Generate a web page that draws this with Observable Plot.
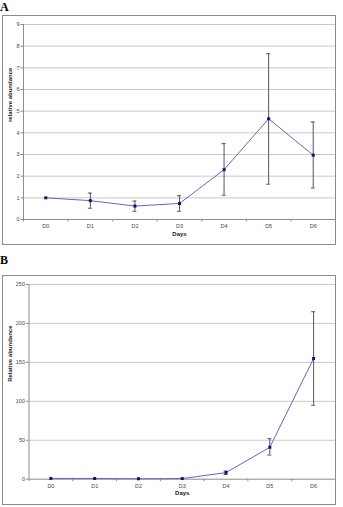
<!DOCTYPE html>
<html>
<head>
<meta charset="utf-8">
<script src="https://cdn.jsdelivr.net/npm/d3@7"></script>
<script src="https://cdn.jsdelivr.net/npm/@observablehq/plot@0.6"></script>
<style>
  html, body { margin: 0; padding: 0; background: #fff; width: 343px; height: 507px; overflow: hidden; }
  body { position: relative; font-family: "Liberation Sans", Arial, sans-serif; }
  .panel { position: absolute; left: 0; }
  .frame { position: absolute; border: 1.5px solid #8a8a8a; box-sizing: border-box; pointer-events: none; }
  .plab { position: absolute; left: 0; font-family: "Liberation Serif", "Times New Roman", serif; font-weight: bold; font-size: 12px; line-height: 12px; }
</style>
</head>
<body>
<div class="plab" id="labA" style="top:1px">A</div>
<div class="frame" style="left:2px; top:15px; width:334px; height:230px"></div>
<div class="panel" id="chartA" style="top:0px"></div>
<div class="plab" id="labB" style="top:254px">B</div>
<div class="frame" style="left:2px; top:275px; width:334px; height:230px"></div>
<div class="panel" id="chartB" style="top:260px"></div>
<script>
const days = ["D0", "D1", "D2", "D3", "D4", "D5", "D6"];

const aValues = [1.0, 0.87, 0.62, 0.74, 2.3, 4.65, 2.97];
const aLow    = [null, 0.52, 0.38, 0.38, 1.12, 1.63, 1.45];
const aHigh   = [null, 1.22, 0.85, 1.10, 3.50, 7.65, 4.50];
const aTicks  = [0, 1, 2, 3, 4, 5, 6, 7, 8, 9];

const bValues = [1.0, 0.9, 0.6, 0.8, 8.5, 41, 155];
const bLow    = [null, null, null, null, 6.0, 31, 95];
const bHigh   = [null, null, null, null, 10.5, 52, 215];
const bTicks  = [0, 50, 100, 150, 200, 250];

const aTitle = "relative abundance";
const bTitle = "Relative abundance";
const xTitle = "Days";

function makeChart(values, low, high, yTicks, yTitle, opts) {
  const data = days.map((d, i) => ({i, day: d, v: values[i], lo: low[i], hi: high[i]}));
  const bars = data.filter(d => d.lo != null);
  const idx = days.map((d, i) => i);
  const bounds = d3.range(days.length + 1).map(k => k - 0.5);
  const yMax = yTicks[yTicks.length - 1];
  return Plot.plot({
    width: 343,
    height: opts.height,
    marginLeft: opts.marginLeft,
    marginRight: 8,
    marginTop: 24,
    marginBottom: opts.marginBottom,
    style: {fontFamily: "'Liberation Sans', Arial, sans-serif", background: "transparent", color: "#444"},
    x: {domain: [-0.5, days.length - 0.5], axis: null},
    y: {domain: [0, yMax], axis: null},
    marks: [
      Plot.gridY(yTicks.filter(t => t > 0), {stroke: "#c9c9c9", strokeOpacity: 1}),
      Plot.ruleX([-0.5], {stroke: "#8c8c8c"}),
      Plot.ruleY([0], {stroke: "#8c8c8c"}),
      Plot.axisY({ticks: yTicks, tickSize: 2.5, tickPadding: 1.5, fontSize: 5.5, stroke: "#8c8c8c", label: null, tickFormat: d => String(d)}),
      Plot.axisX({ticks: idx, tickSize: 0, tickPadding: 5, fontSize: 5.5, label: null, tickFormat: i => days[i]}),
      Plot.axisX({ticks: bounds, tickSize: 2.5, stroke: "#8c8c8c", label: null, tickFormat: () => ""}),
      Plot.text([yTitle], {text: d => d, frameAnchor: "left", dx: -opts.titleOffset, rotate: -90, fontSize: 6, fontWeight: "bold", fill: "#222"}),
      Plot.text([xTitle], {text: d => d, frameAnchor: "bottom", dy: 16, fontSize: 6, fontWeight: "bold", fill: "#222"}),
      Plot.ruleX(bars, {x: "i", y1: "lo", y2: "hi", stroke: "#555", strokeWidth: 1}),
      Plot.ruleY(bars, {y: "hi", x1: "i", x2: "i", insetLeft: -2, insetRight: -2, stroke: "#555"}),
      Plot.ruleY(bars, {y: "lo", x1: "i", x2: "i", insetLeft: -2, insetRight: -2, stroke: "#555"}),
      Plot.line(data, {x: "i", y: "v", stroke: "#6565c8", strokeWidth: 1}),
      Plot.dot(data, {x: "i", y: "v", symbol: "square", r: 1.7, fill: "#10107a", stroke: "none"})
    ]
  });
}

document.getElementById("chartA").appendChild(
  makeChart(aValues, aLow, aHigh, aTicks, aTitle, {height: 250, marginLeft: 23, marginBottom: 31, titleOffset: 13})
);
document.getElementById("chartB").appendChild(
  makeChart(bValues, bLow, bHigh, bTicks, bTitle, {height: 247, marginLeft: 28.5, marginBottom: 28.3, titleOffset: 18.5})
);
</script>
</body>
</html>
